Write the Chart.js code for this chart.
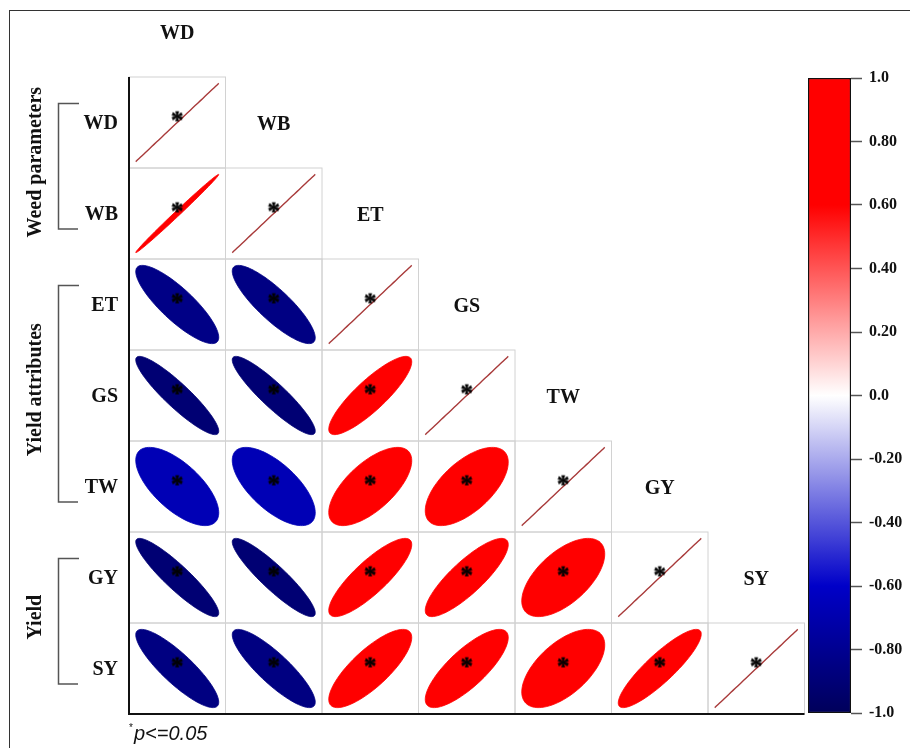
<!DOCTYPE html>
<html>
<head>
<meta charset="utf-8">
<script src="https://cdn.jsdelivr.net/npm/chart.js@4.4.1/dist/chart.umd.min.js"></script>
<style>
  html, body { margin: 0; padding: 0; background: #fff; }
  #wrap { position: relative; width: 910px; height: 748px; overflow: hidden; }
  #frame { position: absolute; left: 9px; top: 10px; right: -5px; bottom: -5px;
           border-left: 1.5px solid #333; border-top: 1.5px solid #333; }
  #main { position: absolute; left: 0; top: 0; }
  #bar { position: absolute; left: 800px; top: 60px; }
</style>
</head>
<body>
<div id="wrap">
  <div id="frame"></div>
  <canvas id="main" width="910" height="748"></canvas>
  <canvas id="bar" width="110" height="670"></canvas>
</div>
<script>
// variables (rows / columns of the triangle)
const VARS = ['WD', 'WB', 'ET', 'GS', 'TW', 'GY', 'SY'];

// lower triangle of the correlation matrix
const CORR = [
  [1],
  [0.996, 1],
  [-0.84, -0.85, 1],
  [-0.91, -0.91, 0.86, 1],
  [-0.67, -0.67, 0.66, 0.62, 1],
  [-0.91, -0.91, 0.84, 0.84, 0.6, 1],
  [-0.86, -0.86, 0.79, 0.79, 0.6, 0.88, 1]
];

// significance at p<=0.05 (1 = star)
const SIG = [
  [1],
  [1, 1],
  [1, 1, 1],
  [1, 1, 1, 1],
  [1, 1, 1, 1, 1],
  [1, 1, 1, 1, 1, 1],
  [1, 1, 1, 1, 1, 1, 1]
];

// variable groups (first / last index)
const GROUPS = ['Weed parameters', 'Yield attributes', 'Yield'];
const GROUP_FIRST = [0, 2, 5];
const GROUP_LAST = [1, 4, 6];

// colour bar ticks
const BAR_TICKS = [1, 0.8, 0.6, 0.4, 0.2, 0, -0.2, -0.4, -0.6, -0.8, -1];
const BAR_LABELS = ['1.0', '0.80', '0.60', '0.40', '0.20', '0.0', '-0.20', '-0.40', '-0.60', '-0.80', '-1.0'];

const SERIF = '"Liberation Serif", "Times New Roman", serif';

function corrColor(r) {
  const stops = [[-1, [0, 0, 90]], [-0.6, [0, 0, 200]], [0, [255, 255, 255]], [0.6, [255, 0, 0]], [1, [255, 0, 0]]];
  for (let s = 0; s < stops.length - 1; s++) {
    const [v0, c0] = stops[s], [v1, c1] = stops[s + 1];
    if (r <= v1 || s === stops.length - 2) {
      const t = Math.max(0, Math.min(1, (r - v0) / (v1 - v0)));
      const c = c0.map((x, k) => Math.round(x + (c1[k] - x) * t));
      return `rgb(${c[0]},${c[1]},${c[2]})`;
    }
  }
}

// asterisk marker used as point style
const starImg = (function () {
  const c = document.createElement('canvas');
  c.width = 20; c.height = 20;
  const g = c.getContext('2d');
  g.font = 'bold 25px ' + SERIF;
  g.textAlign = 'center';
  g.textBaseline = 'alphabetic';
  g.fillStyle = '#000';
  g.strokeStyle = '#000';
  g.lineWidth = 0.6;
  const m = g.measureText('*');
  const base = 10 + (m.actualBoundingBoxAscent - m.actualBoundingBoxDescent) / 2;
  g.fillText('*', 10, base);
  g.strokeText('*', 10, base);
  return c;
})();

const starPts = [];
SIG.forEach((row, i) => row.forEach((s, j) => { if (s) starPts.push({ x: j + 0.5, y: i + 0.5 - 0.066 }); }));

const corrPlugin = {
  id: 'corrPlugin',
  beforeDatasetsDraw(chart) {
    const { ctx, scales: { x, y } } = chart;
    ctx.save();
    // cell borders
    ctx.strokeStyle = '#d2d2d2';
    ctx.lineWidth = 1;
    CORR.forEach((row, i) => row.forEach((r, j) => {
      const x0 = x.getPixelForValue(j), x1 = x.getPixelForValue(j + 1);
      const y0 = y.getPixelForValue(i), y1 = y.getPixelForValue(i + 1);
      ctx.strokeRect(x0, y0, x1 - x0, y1 - y0);
    }));
    // ellipses
    CORR.forEach((row, i) => row.forEach((r, j) => {
      const d = Math.acos(Math.max(-1, Math.min(1, r)));
      ctx.beginPath();
      for (let s = 0; s <= 90; s++) {
        const k = s / 90 * 2 * Math.PI;
        const px = x.getPixelForValue(j + 0.5 + 0.43 * Math.cos(k + d / 2));
        const py = y.getPixelForValue(i + 0.5 - 0.43 * Math.cos(k - d / 2));
        if (s === 0) ctx.moveTo(px, py); else ctx.lineTo(px, py);
      }
      ctx.closePath();
      if (i === j) {
        ctx.strokeStyle = '#a83a3a';
        ctx.lineWidth = 1.4;
        ctx.stroke();
      } else {
        ctx.fillStyle = corrColor(r);
        ctx.fill();
        ctx.strokeStyle = corrColor(r);
        ctx.lineWidth = 0.8;
        ctx.stroke();
      }
    }));
    // left & bottom axis lines
    ctx.strokeStyle = '#111';
    ctx.lineWidth = 2;
    ctx.beginPath();
    ctx.moveTo(x.getPixelForValue(0), y.getPixelForValue(0));
    ctx.lineTo(x.getPixelForValue(0), y.getPixelForValue(VARS.length));
    ctx.lineTo(x.getPixelForValue(VARS.length), y.getPixelForValue(VARS.length));
    ctx.stroke();
    ctx.restore();
  },
  afterDraw(chart) {
    const { ctx, scales: { x, y } } = chart;
    ctx.save();
    ctx.fillStyle = '#111';
    ctx.font = 'bold 20px ' + SERIF;
    ctx.textBaseline = 'middle';
    // row labels
    ctx.textAlign = 'right';
    VARS.forEach((v, i) => ctx.fillText(v, x.getPixelForValue(0) - 11, y.getPixelForValue(i + 0.5) + 1));
    // column labels above each diagonal cell
    ctx.textAlign = 'center';
    VARS.forEach((v, j) => ctx.fillText(v, x.getPixelForValue(j + 0.5), y.getPixelForValue(j - 0.5) + 2));
    // group brackets and labels
    GROUPS.forEach((g, k) => {
      const top = y.getPixelForValue(GROUP_FIRST[k] + 0.29);
      const bot = y.getPixelForValue(GROUP_LAST[k] + 0.67);
      ctx.strokeStyle = '#555';
      ctx.lineWidth = 1.5;
      ctx.beginPath();
      ctx.moveTo(79, top); ctx.lineTo(58.5, top); ctx.lineTo(58.5, bot); ctx.lineTo(78, bot);
      ctx.stroke();
      ctx.save();
      ctx.translate(36, (top + bot) / 2 - 4);
      ctx.rotate(-Math.PI / 2);
      ctx.textAlign = 'center';
      ctx.fillText(g, 0, 0);
      ctx.restore();
    });
    // significance note
    ctx.textAlign = 'left';
    ctx.textBaseline = 'alphabetic';
    ctx.font = '10px "Liberation Sans", Arial, sans-serif';
    ctx.fillText('*', 129, 731);
    ctx.font = 'italic 20px "Liberation Sans", Arial, sans-serif';
    ctx.fillText('p<=0.05', 134, 740);
    ctx.restore();
  }
};

new Chart(document.getElementById('main'), {
  type: 'scatter',
  data: {
    datasets: [{
      data: starPts,
      pointStyle: starImg,
      pointRadius: 6
    }]
  },
  options: {
    responsive: false,
    devicePixelRatio: 1,
    animation: false,
    events: [],
    layout: { padding: { left: 129, top: 77, right: 105.5, bottom: 34 } },
    plugins: { legend: { display: false }, tooltip: { enabled: false } },
    scales: {
      x: { type: 'linear', min: 0, max: VARS.length, display: false },
      y: { type: 'linear', min: 0, max: VARS.length, reverse: true, display: false }
    }
  },
  plugins: [corrPlugin]
});

// colour bar
new Chart(document.getElementById('bar'), {
  type: 'bar',
  data: {
    labels: [''],
    datasets: [{
      data: [[-1, 1]],
      backgroundColor: (c) => {
        const a = c.chart.chartArea;
        if (!a) return '#fff';
        const g = c.chart.ctx.createLinearGradient(0, a.bottom, 0, a.top);
        for (let s = 0; s <= 40; s++) g.addColorStop(s / 40, corrColor(-1 + s / 20));
        return g;
      },
      borderColor: '#111',
      borderWidth: 1.5,
      borderSkipped: false,
      barPercentage: 1,
      categoryPercentage: 1
    }]
  },
  options: {
    responsive: false,
    devicePixelRatio: 1,
    animation: false,
    events: [],
    layout: { padding: { left: 8, top: 18, right: 0, bottom: 17 } },
    plugins: { legend: { display: false }, tooltip: { enabled: false } },
    scales: {
      x: { display: false },
      y: {
        position: 'right',
        min: -1,
        max: 1,
        afterFit(s) { s.width = 59; },
        afterBuildTicks(s) { s.ticks = BAR_TICKS.map(v => ({ value: v })); },
        ticks: {
          callback: (v) => BAR_LABELS[BAR_TICKS.findIndex(t => Math.abs(t - v) < 1e-9)],
          font: { family: SERIF, weight: 'bold', size: 16 },
          color: '#111',
          padding: 7
        },
        grid: { drawOnChartArea: false, tickLength: 11, tickColor: '#555', tickWidth: 1.5 },
        border: { display: false }
      }
    }
  }
});
</script>
</body>
</html>
